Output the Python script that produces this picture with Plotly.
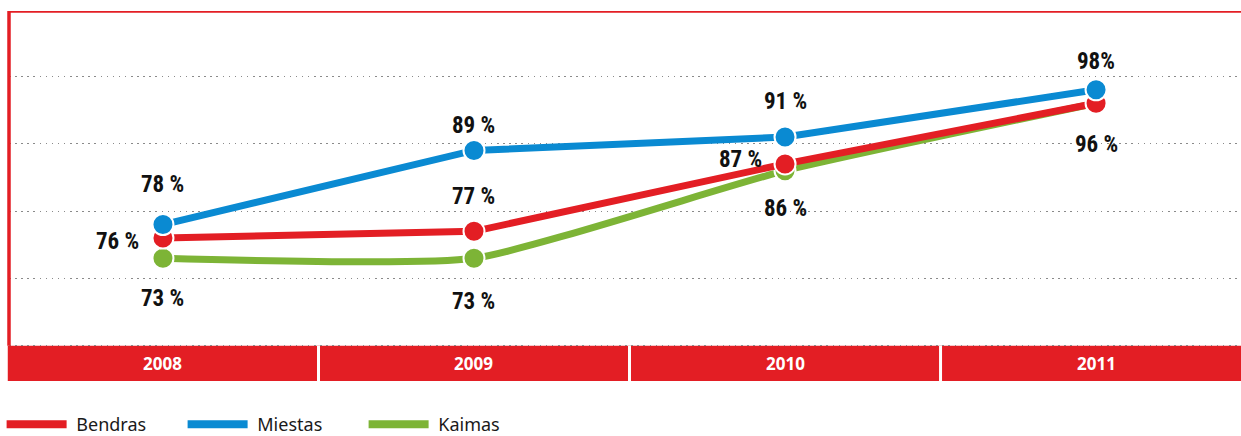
import plotly.graph_objects as go

# ---- data ----
years = ["2008", "2009", "2010", "2011"]
bendras = [76, 77, 87, 96]
miestas = [78, 89, 91, 98]
kaimas = [73, 73, 86, 96]

bendras_labels = ["76 %", "77 %", "87 %", "96 %"]
miestas_labels = ["78 %", "89 %", "91 %", "98%"]
kaimas_labels = ["73 %", "73 %", "86 %", ""]

grid_vals = [60, 70, 80, 90, 100]

# ---- label placement (pixel offsets from each point) ----
bendras_off = [(-45, -3), (0, 35), (-45, 4), (0, -41)]
miestas_off = [(0, 40), (0, 25), (0, 35), (0, 28)]
kaimas_off = [(0, -40), (0, -43), (0, -38), None]

# ---- style ----
RED = "#E31E24"
BLUE = "#0A8AD2"
GREEN = "#7DB436"
LABEL_FONT = "Liberation Sans Narrow, Noto Sans Condensed, Roboto Condensed, Roboto, sans-serif"
TEXT_FONT = "Noto Sans, Open Sans, sans-serif"

Y_MIN, Y_MAX = 54.78, 109.7
X_RANGE = [-0.495, 3.466]

fig = go.Figure()

series = [
    ("Kaimas", kaimas, GREEN, "spline"),
    ("Bendras", bendras, RED, "linear"),
    ("Miestas", miestas, BLUE, "linear"),
]
for name, vals, color, shape in series:
    fig.add_trace(go.Scatter(
        x=years, y=vals, name=name, mode="lines+markers", showlegend=False,
        line=dict(color=color, width=7, shape=shape, smoothing=0.5),
        marker=dict(size=21, color=color, line=dict(color="white", width=2)),
        hoverinfo="x+y+name",
    ))

# legend entries (line only, like the reference legend)
for name, color, rank in [("Bendras", RED, 1), ("Miestas", BLUE, 2), ("Kaimas", GREEN, 3)]:
    fig.add_trace(go.Scatter(
        x=[None], y=[None], name="\u00a0" + name, mode="lines",
        line=dict(color=color, width=8), legendrank=rank, showlegend=True,
        hoverinfo="skip",
    ))

# data labels
for vals, labels, offs in [(bendras, bendras_labels, bendras_off),
                           (miestas, miestas_labels, miestas_off),
                           (kaimas, kaimas_labels, kaimas_off)]:
    for i, (v, lab, o) in enumerate(zip(vals, labels, offs)):
        if o is None or not lab:
            continue
        fig.add_annotation(x=i, y=v, xref="x", yref="y", text="<b>%s</b>" % lab,
                           showarrow=False, xshift=o[0], yshift=o[1],
                           font=dict(family=LABEL_FONT, size=23, color="#111111"))

# red band at bottom with year labels
fig.add_shape(type="rect", xref="paper", yref="y", x0=-0.001, x1=1, y0=Y_MIN, y1=60,
              fillcolor=RED, line_width=0, layer="below")
for i in range(len(years) - 1):
    fig.add_shape(type="line", xref="x", yref="y", x0=i + 0.5, x1=i + 0.5,
                  y0=Y_MIN, y1=60, line=dict(color="white", width=3), layer="above")
for i, yr in enumerate(years):
    fig.add_annotation(x=i, y=(Y_MIN + 60) / 2, xref="x", yref="y", text="<b>%s</b>" % yr,
                       showarrow=False,
                       font=dict(family=TEXT_FONT, size=17, color="white"))

# border lines (left and top)
fig.add_shape(type="line", xref="paper", yref="y", x0=0, x1=0, y0=60, y1=Y_MAX,
              line=dict(color=RED, width=3.5), layer="above")
fig.add_shape(type="line", xref="paper", yref="y", x0=0, x1=1, y0=Y_MAX, y1=Y_MAX,
              line=dict(color=RED, width=3.5), layer="above")

fig.update_layout(
    width=1241, height=436,
    margin=dict(l=9, r=0, t=11, b=55, autoexpand=False),
    paper_bgcolor="white", plot_bgcolor="white",
    showlegend=True,
    legend=dict(orientation="h", x=-0.006, xanchor="left", y=-0.118, yanchor="middle",
                font=dict(family=TEXT_FONT, size=18, color="#1a1a1a"),
                itemwidth=60, traceorder="normal",
                entrywidth=106, entrywidthmode="pixels"),
    xaxis=dict(type="category", range=X_RANGE, showgrid=False, showticklabels=False,
               zeroline=False, showline=False, fixedrange=True),
    yaxis=dict(range=[Y_MIN, Y_MAX], tickvals=grid_vals, showticklabels=False,
               showgrid=True, gridcolor="#8a8a8a", gridwidth=1.3, griddash="1.5px,4.6px",
               zeroline=False, showline=False, fixedrange=True),
)

fig.write_html("out.html", config={"displayModeBar": False},
               post_script="document.body.style.margin='0';document.body.style.overflow='hidden';")
